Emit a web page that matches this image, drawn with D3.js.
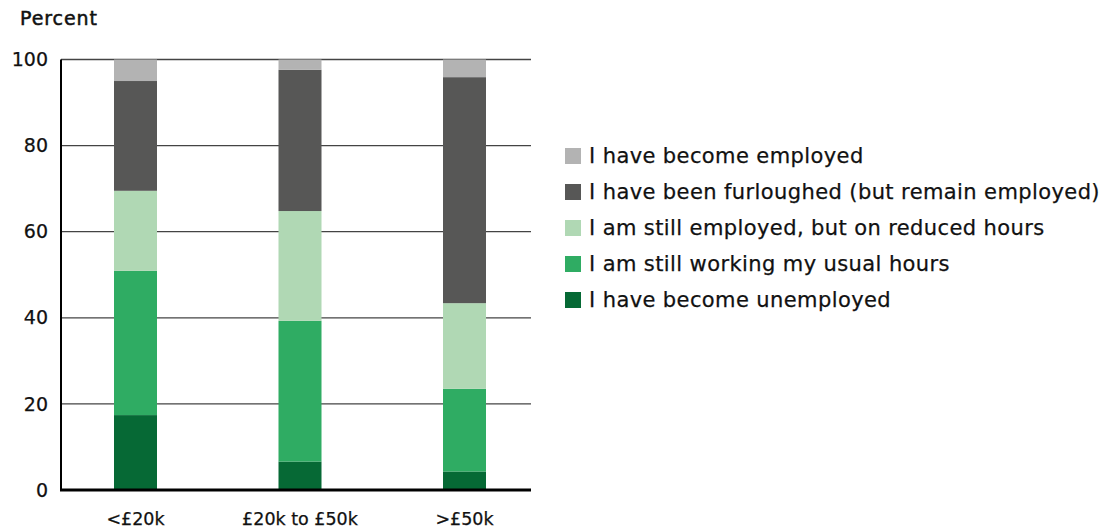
<!DOCTYPE html>
<html>
<head>
<meta charset="utf-8">
<script src="https://cdn.jsdelivr.net/npm/d3@7"></script>
<style>
  body { margin: 0; background: #fff; }
  text { font-family: "DejaVu Sans", sans-serif; fill: #111; stroke: #111; stroke-width: 0.25px; }
</style>
</head>
<body>
<div id="chart"></div>
<script>
// Employment status by income band, stacked to 100%

const incomeBands = ["<£20k", "£20k to £50k", ">£50k"];
const seriesNames = [
    "I have become unemployed",
    "I am still working my usual hours",
    "I am still employed, but on reduced hours",
    "I have been furloughed (but remain employed)",
    "I have become employed"
];
const unemployed = [17.4, 6.6, 4.3];
const usualHours = [33.5, 32.7, 19.2];
const reducedHours = [18.6, 25.5, 19.9];
const furloughed = [25.5, 32.8, 52.5];
const becameEmployed = [5.0, 2.4, 4.1];
const yTicks = [0, 20, 40, 60, 80, 100];

const colors = ["#066935", "#2fac63", "#b0d8b4", "#575756", "#b3b3b3"];

const width = 1105;
const height = 531;

const svg = d3.select("#chart")
    .append("svg")
    .attr("width", width)
    .attr("height", height);

const seriesValues = [unemployed, usualHours, reducedHours, furloughed, becameEmployed];
const rows = incomeBands.map((band, i) => {
    const row = { band: band };
    seriesNames.forEach((name, s) => { row[name] = seriesValues[s][i]; });
    return row;
});

const stack = d3.stack().keys(seriesNames);
const layers = stack(rows);

const x = d3.scaleBand()
    .domain(incomeBands)
    .range([53.25, 546.75])
    .paddingInner(0.7386)
    .paddingOuter(0.3693);

const y = d3.scaleLinear()
    .domain([0, 100])
    .range([490, 59.5]);

const plotLeft = 61;
const plotRight = 531;

// gridlines
svg.append("g")
    .selectAll("line")
    .data(yTicks.filter(d => d > 0))
    .join("line")
    .attr("x1", plotLeft)
    .attr("x2", plotRight)
    .attr("y1", d => y(d))
    .attr("y2", d => y(d))
    .attr("stroke", "#444")
    .attr("stroke-width", 1.3);

// bars
svg.append("g")
    .selectAll("g")
    .data(layers)
    .join("g")
    .attr("fill", (d, i) => colors[i])
    .selectAll("rect")
    .data(d => d)
    .join("rect")
    .attr("x", d => x(d.data.band))
    .attr("width", x.bandwidth())
    .attr("y", d => y(d[1]))
    .attr("height", d => y(d[0]) - y(d[1]));

// axes lines
svg.append("line")
    .attr("x1", plotLeft)
    .attr("x2", plotLeft)
    .attr("y1", y(100))
    .attr("y2", y(0))
    .attr("stroke", "#000")
    .attr("stroke-width", 2);

svg.append("line")
    .attr("x1", plotLeft - 1)
    .attr("x2", plotRight)
    .attr("y1", y(0))
    .attr("y2", y(0))
    .attr("stroke", "#000")
    .attr("stroke-width", 3);

// y tick labels
svg.append("g")
    .selectAll("text")
    .data(yTicks)
    .join("text")
    .attr("x", 48)
    .attr("y", d => y(d))
    .attr("dy", "0.35em")
    .attr("text-anchor", "end")
    .style("font-size", "19px")
    .text(d => d);

// x labels
svg.append("g")
    .selectAll("text")
    .data(incomeBands)
    .join("text")
    .attr("x", d => x(d) + x.bandwidth() / 2)
    .attr("y", 525)
    .attr("text-anchor", "middle")
    .style("font-size", "17.5px")
    .text(d => d);

// axis title
svg.append("text")
    .attr("x", 20)
    .attr("y", 25)
    .style("font-size", "19px")
    .style("letter-spacing", "0.9px")
    .style("stroke-width", "0.5px")
    .text("Percent");

// legend, top-down in reverse stack order
const legendItems = seriesNames.map((name, i) => ({ name: name, color: colors[i] })).reverse();

const legend = svg.append("g")
    .selectAll("g")
    .data(legendItems)
    .join("g")
    .attr("transform", (d, i) => `translate(565, ${156 + i * 36})`);

legend.append("rect")
    .attr("x", 0)
    .attr("y", -8)
    .attr("width", 16)
    .attr("height", 16)
    .attr("fill", d => d.color);

legend.append("text")
    .attr("x", 24)
    .attr("y", 0)
    .attr("dy", "0.35em")
    .style("font-size", "21px")
    .style("letter-spacing", "0.4px")
    .text(d => d.name);
</script>
</body>
</html>
